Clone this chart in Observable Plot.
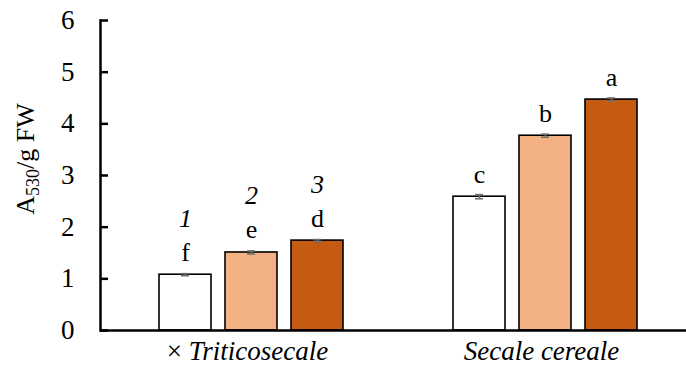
<!DOCTYPE html>
<html><head><meta charset="utf-8">
<script src="https://cdn.jsdelivr.net/npm/d3@7"></script>
<script src="https://cdn.jsdelivr.net/npm/@observablehq/plot@0.6"></script>
<style>body{margin:0;background:#fff}</style>
</head><body><div id="chart"></div>
<script>
const groups = ["× Triticosecale", "Secale cereale"];
const varieties = ["1", "2", "3"];
const values = [[1.08, 1.51, 1.74], [2.59, 3.77, 4.47]];
const errors = [[0.02, 0.03, 0.02], [0.04, 0.03, 0.03]];
const letters = [["f", "e", "d"], ["c", "b", "a"]];
const colors = ["#FFFFFF", "#F4B183", "#C55A11"];
const yTicks = [0, 1, 2, 3, 4, 5, 6];

const data = [];
groups.forEach((g, i) => varieties.forEach((v, j) => data.push({
  group: g, variety: v, value: values[i][j], err: errors[i][j], letter: letters[i][j]
})));

const FF = "'Liberation Serif', 'Times New Roman', serif";
const FS = 26;

const plot = Plot.plot({
  width: 686, height: 375,
  marginTop: 20, marginBottom: 45, marginLeft: 100, marginRight: -2,
  style: {fontSize: FS + "px", color: "#000", background: "#fff", overflow: "visible"},
  fx: {domain: groups, padding: 0, axis: null},
  x: {domain: varieties, paddingInner: 0.212, paddingOuter: 0.833, align: 0.539, axis: null},
  y: {domain: [0, 6]},
  color: {domain: varieties, range: colors},
  marks: [
    Plot.barY(data, {fx: "group", x: "variety", y: "value", fill: "variety", stroke: "#000", strokeWidth: 1.6}),
    Plot.ruleX(data, {fx: "group", x: "variety", y1: d => d.value - d.err, y2: d => d.value + d.err, stroke: "#6f6f6f", strokeWidth: 1.6}),
    Plot.tickY(data, {fx: "group", x: "variety", y: d => d.value - d.err, stroke: "#6f6f6f", strokeWidth: 1.6, insetLeft: 22, insetRight: 22}),
    Plot.tickY(data, {fx: "group", x: "variety", y: d => d.value + d.err, stroke: "#6f6f6f", strokeWidth: 1.6, insetLeft: 22, insetRight: 22}),
    Plot.text(data, {fx: "group", x: "variety", y: "value", text: "letter", dy: -14, lineAnchor: "bottom", fontSize: FS}),
    Plot.text(data.filter(d => d.group === groups[0]), {fx: "group", x: "variety", y: "value", text: "variety", dy: -48, lineAnchor: "bottom", fontStyle: "italic", fontSize: FS}),
    Plot.ruleY([0], {stroke: "#000", strokeWidth: 2.5}),
    Plot.axisY({ticks: yTicks, tickFormat: d3.format("d"), tickSize: 0, tickPadding: 26, label: null, facetAnchor: "left", fontSize: 27}),
    Plot.axisY({ticks: yTicks, tickFormat: () => "", tickSize: 8, dx: 8, strokeWidth: 2.5, label: null, facetAnchor: "left"}),
    Plot.frame({anchor: "left", facetAnchor: "left", stroke: "#000", strokeWidth: 2.5}),
    Plot.text(groups, {fx: d => d, frameAnchor: "bottom", dy: 29, lineAnchor: "bottom", text: d => d, fontStyle: "italic", fontSize: 27})
  ]
});

const svg = d3.select(plot);
// mixed styles for the group label "× Triticosecale"
svg.selectAll("text").each(function() {
  const t = d3.select(this);
  if (t.text() === groups[0]) {
    t.text(null);
    t.append("tspan").style("font-style", "normal").text("× ");
    t.append("tspan").style("font-style", "italic").text("Triticosecale");
  }
});
// y-axis title with subscript
const lab = svg.append("text")
  .attr("transform", "translate(34,159) rotate(-90)")
  .attr("text-anchor", "middle")
  .attr("font-size", 26)
  .attr("fill", "#000");
lab.append("tspan").text("A");
lab.append("tspan").attr("font-size", 18).attr("dy", 5).text("530");
lab.append("tspan").attr("dy", -5).text("/g FW");

plot.style.fontFamily = FF;
svg.selectAll("g, text").style("font-family", FF);

document.getElementById("chart").append(plot);
</script>
</body></html>
